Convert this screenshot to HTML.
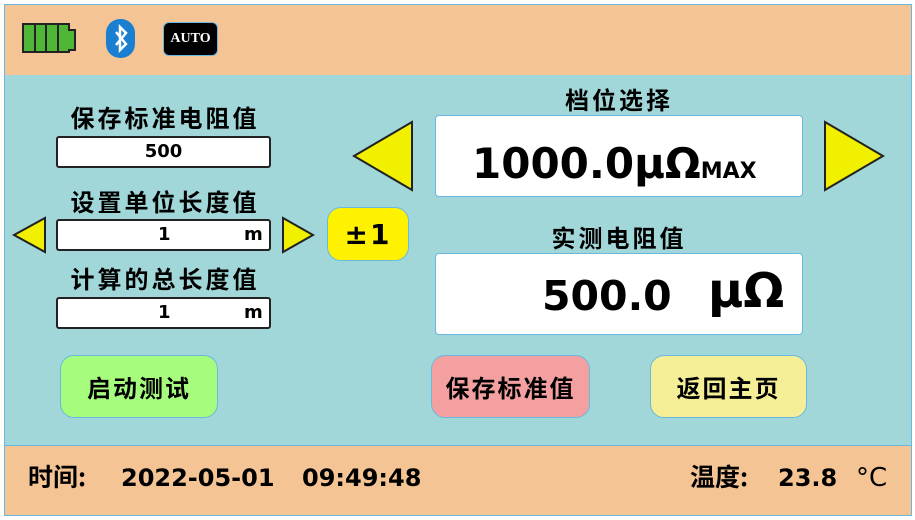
<!DOCTYPE html>
<html><head><meta charset="utf-8"><style>
body{margin:0;width:915px;height:520px;background:#fff;position:relative;overflow:hidden;font-family:"DejaVu Sans","Noto Sans CJK SC",sans-serif;font-weight:bold;color:#000}
.a{position:absolute}
.bar{background:#f4c494;border:1px solid #6ab8e0}
.box{position:absolute;background:#fff;border:2px solid #222;border-radius:3px;box-sizing:border-box}
.lbl{position:absolute;font-size:24px;letter-spacing:3px;text-align:center;font-family:"Noto Sans CJK SC",sans-serif}
.btn{position:absolute;border-radius:14px;border:1px solid #6ab8e0;font-size:24px;letter-spacing:2px;display:flex;align-items:center;justify-content:center;box-sizing:border-box;font-family:"Noto Sans CJK SC",sans-serif}
</style></head><body>
<div class="a bar" style="left:4px;top:4px;width:906px;height:70px"></div>
<div class="a" style="left:4px;top:75px;width:906px;height:370px;background:#a1d7d8;border-left:1px solid #6ab8e0;border-right:1px solid #6ab8e0"></div>
<div class="a bar" style="left:4px;top:445px;width:906px;height:69px"></div>
<div class="a" style="left:22px;top:23px;width:48px;height:30px;border:2px solid #222;background:#222;box-sizing:border-box;display:flex;gap:2px">
<div style="flex:1;background:#4fb638"></div><div style="flex:1;background:#4fb638"></div><div style="flex:1;background:#4fb638"></div><div style="flex:1;background:#4fb638"></div></div>
<div class="a" style="left:68px;top:29px;width:6px;height:18px;background:#4fb638;border:2px solid #222;border-left:none"></div>
<div class="a" style="left:106px;top:19px;width:29px;height:39px;background:#1a7fd0;border-radius:14px"></div>
<svg class="a" style="left:106px;top:19px" width="29" height="39"><polyline points="10,13 20,25 14,31 14,8 20,14 10,26" fill="none" stroke="#fff" stroke-width="2.5"/></svg>
<div class="a" style="left:163px;top:22px;width:53px;height:32px;background:#000;border-radius:6px;border:1px solid #6ab8e0;color:#fff;font-family:'Liberation Serif',serif;font-size:14px;line-height:32px;text-align:center">AUTO</div>
<div class="lbl" style="left:56px;top:99px;width:218px">保存标准电阻值</div>
<div class="box" style="left:56px;top:136px;width:215px;height:32px;font-size:18px;text-align:center;line-height:28px">500</div>
<div class="lbl" style="left:56px;top:183px;width:218px">设置单位长度值</div>
<div class="box" style="left:56px;top:219px;width:215px;height:32px;font-size:18px;line-height:28px"><span class="a" style="left:100px">1</span><span class="a" style="left:186px">m</span></div>
<div class="lbl" style="left:56px;top:260px;width:218px">计算的总长度值</div>
<div class="box" style="left:56px;top:297px;width:215px;height:32px;font-size:18px;line-height:28px"><span class="a" style="left:100px">1</span><span class="a" style="left:186px">m</span></div>
<svg class="a" style="left:0;top:0" width="915" height="520">
<polygon points="45,218 45,252 14,235" fill="#f0f000" stroke="#222" stroke-width="2"/>
<polygon points="283,218 283,252 313,235" fill="#f0f000" stroke="#222" stroke-width="2"/>
<polygon points="412,122 412,190 354,156" fill="#f0f000" stroke="#222" stroke-width="2"/>
<polygon points="825,122 825,190 883,156" fill="#f0f000" stroke="#222" stroke-width="2"/>
</svg>
<div class="btn" style="left:327px;top:207px;width:82px;height:54px;background:#fff200;font-size:28px;font-family:'DejaVu Sans','Noto Sans CJK SC',sans-serif">±1</div>
<div class="lbl" style="left:435px;top:81px;width:368px">档位选择</div>
<div class="a" style="left:435px;top:115px;width:368px;height:82px;background:#fff;border:1px solid #6ab8e0;border-radius:4px;box-sizing:border-box"></div>
<div class="a" style="left:472px;top:139px;font-size:42px;line-height:50px;white-space:nowrap">1000.0μΩ<span style="font-size:22px">MAX</span></div>
<div class="lbl" style="left:435px;top:219px;width:368px">实测电阻值</div>
<div class="a" style="left:435px;top:253px;width:368px;height:82px;background:#fff;border:1px solid #6ab8e0;border-radius:4px;box-sizing:border-box"></div>
<div class="a" style="left:542px;top:269px;font-size:41px;line-height:54px">500.0</div>
<div class="a" style="left:708px;top:262px;font-size:48px;line-height:58px">μΩ</div>
<div class="btn" style="left:60px;top:355px;width:158px;height:63px;background:#a6fc7c">启动测试</div>
<div class="btn" style="left:431px;top:355px;width:159px;height:63px;background:#f4a0a0">保存标准值</div>
<div class="btn" style="left:650px;top:355px;width:157px;height:63px;background:#f4ee96">返回主页</div>
<div class="a" style="left:28px;top:460px;font-size:25px;line-height:32px;font-family:'Noto Sans CJK SC',sans-serif">时间:</div>
<div class="a" style="left:121px;top:462px;font-size:24px;line-height:32px">2022-05-01</div>
<div class="a" style="left:302px;top:462px;font-size:24px;line-height:32px">09:49:48</div>
<div class="a" style="left:690px;top:460px;font-size:25px;line-height:32px;font-family:'Noto Sans CJK SC',sans-serif">温度:</div>
<div class="a" style="left:778px;top:462px;font-size:24px;line-height:32px">23.8</div>
<div class="a" style="left:856px;top:462px;font-size:26px;line-height:32px;font-weight:normal">°C</div>
</body></html>
